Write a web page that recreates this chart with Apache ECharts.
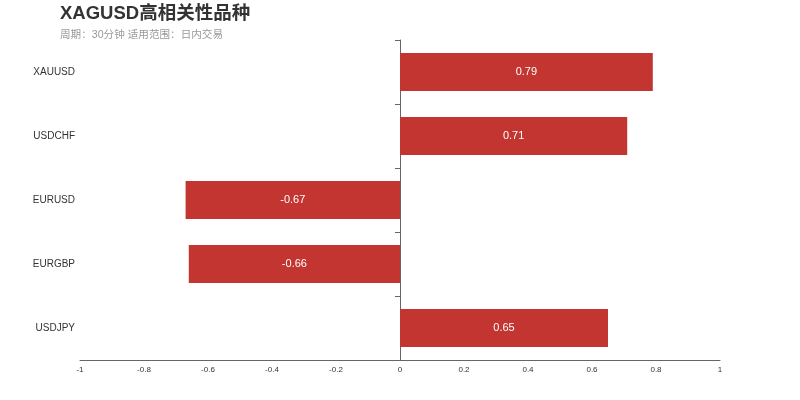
<!DOCTYPE html>
<html><head><meta charset="utf-8">
<script src="https://cdn.jsdelivr.net/npm/echarts@6/dist/echarts.min.js"></script>
<style>html,body{margin:0;padding:0;background:#fff}#c{width:800px;height:400px}</style>
</head><body><div id="c"></div>
<script>
var categories = ['XAUUSD', 'USDCHF', 'EURUSD', 'EURGBP', 'USDJPY'];
var values = [0.79, 0.71, -0.67, -0.66, 0.65];
var xTicks = [-1, -0.8, -0.6, -0.4, -0.2, 0, 0.2, 0.4, 0.6, 0.8, 1];

var chart = echarts.init(document.getElementById('c'), null, {renderer: 'canvas'});
chart.setOption({
  animation: false,
  textStyle: {fontFamily: 'Liberation Sans, Arial, Noto Sans CJK SC, sans-serif'},
  title: {
    text: 'XAGUSD高相关性品种',
    subtext: '周期：30分钟 适用范围：日内交易',
    left: 55, top: 0,
    itemGap: 6,
    textStyle: {fontSize: 18.5, fontWeight: 'bold', color: '#333'},
    subtextStyle: {fontSize: 10.6, color: '#999'}
  },
  grid: {left: 80, right: 80, top: 40, bottom: 40, containLabel: false, outerBoundsMode: 'none'},
  xAxis: {
    type: 'value', min: -1, max: 1, interval: 0.2,
    axisLine: {show: true, lineStyle: {color: '#666'}},
    axisTick: {show: false},
    splitLine: {show: false},
    axisLabel: {fontSize: 8, color: '#333', margin: 6,
      formatter: function (v) { return String(Math.round(v * 10) / 10); }}
  },
  yAxis: [{
    type: 'category', data: categories, inverse: true,
    axisLine: {show: true, onZero: true, lineStyle: {color: '#666'}},
    axisTick: {show: true, length: 5, lineStyle: {color: '#666'}},
    splitLine: {show: false},
    axisLabel: {show: false}
  }, {
    type: 'category', data: categories, inverse: true, position: 'left',
    axisLine: {show: false, onZero: false},
    axisTick: {show: false},
    splitLine: {show: false},
    axisLabel: {fontSize: 10, color: '#333', margin: 5}
  }],
  series: [{
    type: 'bar', data: values, barWidth: 38, yAxisIndex: 0,
    itemStyle: {color: '#c23531'},
    label: {show: true, position: 'inside', color: '#fff', fontSize: 11}
  }]
});
</script></body></html>
